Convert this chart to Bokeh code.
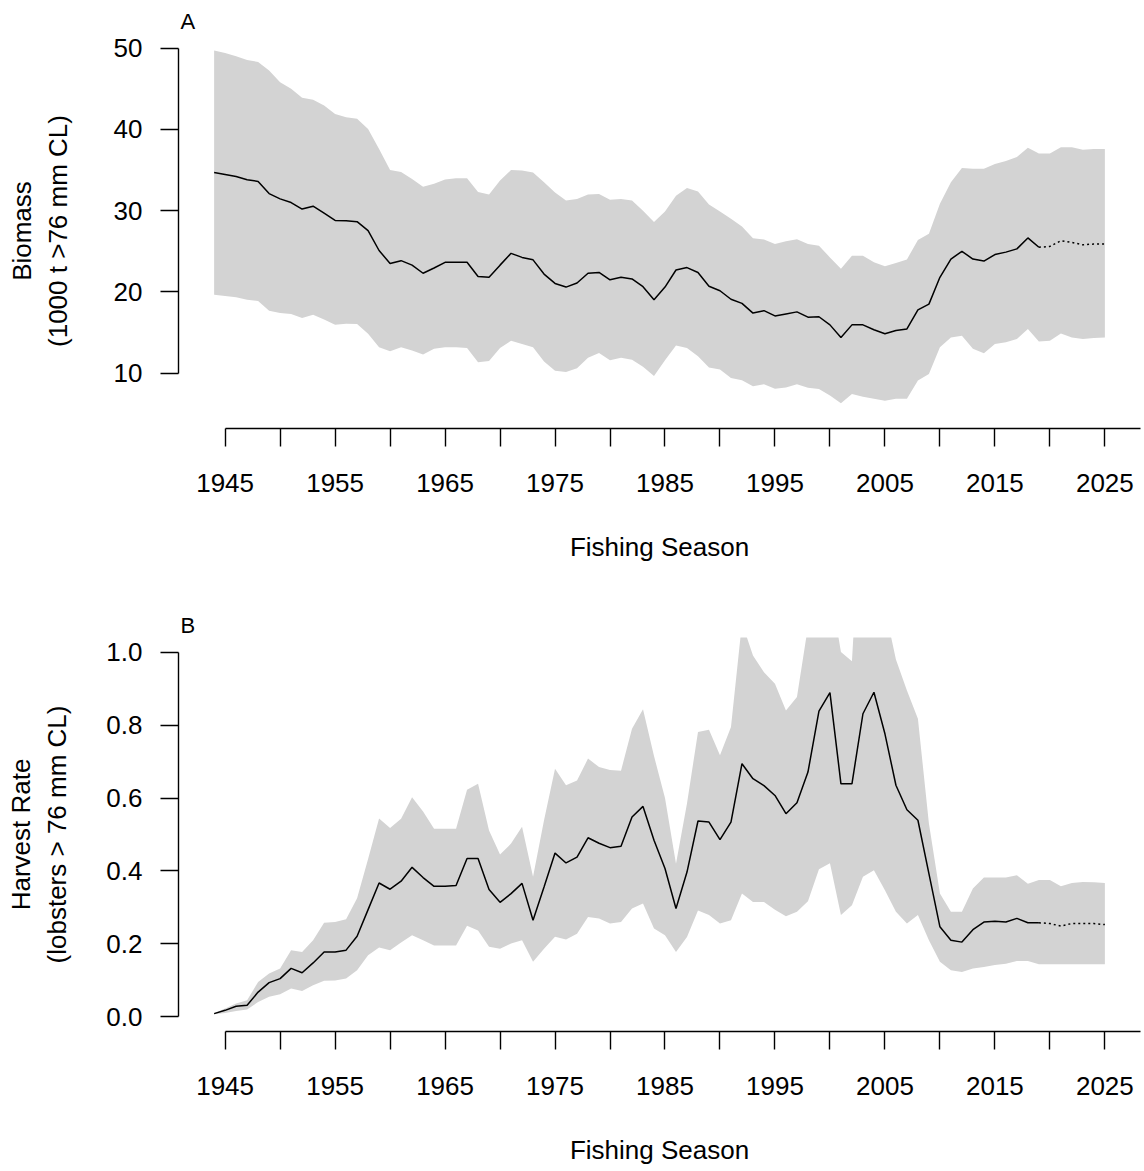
from bokeh.plotting import figure
from bokeh.layouts import column
from bokeh.models import Range1d, FixedTicker, PrintfTickFormatter
from bokeh.embed import file_html
from bokeh.resources import INLINE

years = list(range(1944, 2026))
last_observed = 2019

biomass_median = [34.7, 34.45, 34.2, 33.8, 33.6, 32.1, 31.45, 31.0, 30.2, 30.55,
                  29.7, 28.8, 28.75, 28.65, 27.55, 25.1, 23.5, 23.85, 23.3, 22.3,
                  22.95, 23.65, 23.65, 23.65, 21.9, 21.8, 23.3, 24.75, 24.25, 23.95,
                  22.2, 21.05, 20.6, 21.1, 22.3, 22.4, 21.5, 21.8, 21.6, 20.65,
                  19.05, 20.6, 22.7, 23.0, 22.4, 20.7, 20.15, 19.1, 18.6, 17.4,
                  17.7, 17.05, 17.3, 17.55, 16.9, 16.95, 15.95, 14.4, 15.95, 15.95,
                  15.35, 14.85, 15.25, 15.45, 17.8, 18.5, 21.8, 24.05, 25.0, 24.05,
                  23.8, 24.6, 24.9, 25.3, 26.65, 25.5, 25.6, 26.3, 26.1, 25.8,
                  25.9, 25.9]
biomass_upper = [49.7, 49.4, 49.0, 48.55, 48.3, 47.25, 45.8, 45.0, 43.9, 43.65,
                 42.95, 41.9, 41.5, 41.3, 40.05, 37.6, 35.0, 34.75, 33.9, 32.95,
                 33.3, 33.85, 34.0, 34.0, 32.3, 32.0, 33.7, 35.0, 34.95, 34.7,
                 33.5, 32.25, 31.25, 31.45, 32.0, 32.05, 31.35, 31.45, 31.25, 30.0,
                 28.6, 29.9, 31.85, 32.8, 32.35, 30.75, 29.9, 29.0, 28.05, 26.6,
                 26.45, 25.9, 26.25, 26.5, 25.9, 25.7, 24.25, 22.85, 24.45, 24.45,
                 23.65, 23.15, 23.55, 24.0, 26.4, 27.15, 30.85, 33.5, 35.25, 35.15,
                 35.15, 35.75, 36.1, 36.6, 37.75, 37.05, 37.05, 37.8, 37.8, 37.5,
                 37.6, 37.6]
biomass_lower = [19.65, 19.5, 19.35, 19.05, 18.9, 17.7, 17.4, 17.3, 16.8, 17.2,
                 16.6, 15.95, 16.1, 16.05, 14.85, 13.2, 12.7, 13.2, 12.8, 12.3,
                 13.0, 13.2, 13.2, 13.1, 11.35, 11.5, 13.1, 14.0, 13.6, 13.2,
                 11.45, 10.3, 10.15, 10.6, 11.9, 12.5, 11.6, 11.9, 11.65, 10.8,
                 9.65, 11.6, 13.4, 13.1, 12.1, 10.7, 10.45, 9.4, 9.15, 8.4,
                 8.65, 8.1, 8.25, 8.65, 8.2, 8.05, 7.25, 6.3, 7.45, 7.1,
                 6.85, 6.6, 6.85, 6.85, 9.1, 9.9, 13.2, 14.4, 14.6, 13.0,
                 12.45, 13.6, 13.8, 14.2, 15.45, 13.9, 14.0, 14.9, 14.4, 14.2,
                 14.35, 14.4]

harvest_median = [0.009, 0.018, 0.029, 0.032, 0.068, 0.094, 0.105, 0.133, 0.121, 0.148,
                  0.178, 0.178, 0.183, 0.221, 0.294, 0.367, 0.35, 0.372, 0.41, 0.382,
                  0.358, 0.358, 0.36, 0.434, 0.434, 0.349, 0.314, 0.338, 0.366, 0.265,
                  0.356, 0.449, 0.422, 0.438, 0.491, 0.476, 0.464, 0.468, 0.548, 0.577,
                  0.484, 0.407, 0.297, 0.397, 0.537, 0.534, 0.486, 0.534, 0.694, 0.653,
                  0.634, 0.607, 0.557, 0.587, 0.671, 0.838, 0.889, 0.639, 0.639, 0.831,
                  0.89, 0.776, 0.635, 0.568, 0.539, 0.393, 0.247, 0.21, 0.205, 0.239,
                  0.26, 0.262, 0.26, 0.27, 0.258, 0.258, 0.256, 0.249, 0.256, 0.256,
                  0.256, 0.253]
harvest_upper = [0.01, 0.023, 0.037, 0.046, 0.096, 0.119, 0.133, 0.183, 0.178, 0.21,
                 0.258, 0.26, 0.268, 0.325, 0.433, 0.544, 0.518, 0.543, 0.602, 0.563,
                 0.516, 0.516, 0.516, 0.623, 0.639, 0.511, 0.445, 0.475, 0.521, 0.384,
                 0.539, 0.68, 0.635, 0.648, 0.708, 0.685, 0.677, 0.675, 0.79, 0.843,
                 0.715, 0.6, 0.42, 0.585, 0.781, 0.787, 0.717, 0.795, 1.08, 0.991,
                 0.945, 0.913, 0.84, 0.877, 1.07, 1.25, 1.18, 1.0, 0.975, 1.5,
                 1.35, 1.12, 0.98, 0.895, 0.817, 0.53, 0.338, 0.288, 0.288, 0.352,
                 0.382, 0.382, 0.382, 0.388, 0.365, 0.375, 0.375, 0.358, 0.367, 0.37,
                 0.369, 0.367]
harvest_lower = [0.007, 0.011, 0.016, 0.02, 0.041, 0.055, 0.062, 0.078, 0.071, 0.087,
                 0.099, 0.1, 0.105, 0.128, 0.169, 0.19, 0.183, 0.204, 0.224, 0.21,
                 0.196, 0.196, 0.196, 0.25, 0.237, 0.192, 0.187, 0.201, 0.21, 0.151,
                 0.187, 0.22, 0.212, 0.228, 0.274, 0.27, 0.256, 0.26, 0.297, 0.311,
                 0.242, 0.224, 0.178, 0.219, 0.292, 0.279, 0.256, 0.265, 0.338, 0.315,
                 0.315, 0.294, 0.276, 0.288, 0.317, 0.405, 0.421, 0.279, 0.306, 0.384,
                 0.402, 0.347, 0.288, 0.256, 0.279, 0.21, 0.151, 0.128, 0.123, 0.133,
                 0.137, 0.142, 0.146, 0.153, 0.153, 0.144, 0.144, 0.144, 0.144, 0.144,
                 0.144, 0.144]

x_major = [1945, 1955, 1965, 1975, 1985, 1995, 2005, 2015, 2025]
x_minor = [1950, 1960, 1970, 1980, 1990, 2000, 2010, 2020]
a_ticks = [10, 20, 30, 40, 50]
b_ticks = [0.0, 0.2, 0.4, 0.6, 0.8, 1.0]

FONT = "Liberation Sans"
BAND = "#D3D3D3"
X0, X1 = 1940.76, 2028.24


def make_panel(height, top, bottom, y0, y1, median, lower, upper, yticks,
               ylabel, ylab_standoff, panel_letter, fmt=None):
    p = figure(width=1144, height=height, x_range=Range1d(X0, X1),
               y_range=Range1d(y0, y1), output_backend="svg",
               toolbar_location=None, title=panel_letter,
               min_border_left=178, min_border_right=4,
               min_border_top=top, min_border_bottom=bottom)
    p.outline_line_color = None
    p.xgrid.visible = False
    p.ygrid.visible = False
    p.background_fill_color = "white"
    p.border_fill_color = "white"

    p.title.align = "left"
    p.title.offset = 2
    p.title.standoff = 0
    p.title.text_font = FONT
    p.title.text_font_size = "22px"
    p.title.text_font_style = "normal"
    p.title.text_color = "black"

    p.varea(x=years, y1=lower, y2=upper, fill_color=BAND, fill_alpha=1.0)
    k = years.index(last_observed)
    p.line(years[:k + 1], median[:k + 1], line_color="black", line_width=1.5)
    p.line(years[k:], median[k:], line_color="black", line_width=1.5,
           line_dash="2 3")

    for ax in (p.xaxis[0], p.yaxis[0]):
        ax.axis_line_color = "black"
        ax.axis_line_width = 1.4
        ax.major_tick_line_color = "black"
        ax.major_tick_line_width = 1.4
        ax.major_tick_in = 0
        ax.major_tick_out = 18
        ax.major_label_text_font = FONT
        ax.major_label_text_font_size = "26px"
        ax.major_label_text_color = "black"
        ax.axis_label_text_font = FONT
        ax.axis_label_text_font_size = "26px"
        ax.axis_label_text_font_style = "normal"
        ax.axis_label_text_color = "black"
        ax.major_label_standoff = 18

    xa = p.xaxis[0]
    xa.ticker = FixedTicker(ticks=x_major, minor_ticks=x_minor)
    xa.minor_tick_line_color = "black"
    xa.minor_tick_line_width = 1.4
    xa.minor_tick_in = 0
    xa.minor_tick_out = 18
    xa.bounds = (1945, X1)
    xa.axis_label = "Fishing Season"
    xa.major_label_standoff = 27
    xa.axis_label_standoff = 37

    ya = p.yaxis[0]
    ya.ticker = FixedTicker(ticks=yticks)
    ya.minor_tick_line_color = None
    ya.bounds = (yticks[0], yticks[-1])
    ya.axis_label = ylabel
    ya.axis_label_standoff = ylab_standoff
    ya.major_label_orientation = "horizontal"
    if fmt is not None:
        ya.formatter = PrintfTickFormatter(format=fmt)
    return p


pA = make_panel(588, 33, 160, 3.2, 51.8, biomass_median, biomass_lower,
                biomass_upper, a_ticks, "Biomass\n(1000 t >76 mm CL)", 38, "A")
pB = make_panel(583, 49, 140, -0.04, 1.04, harvest_median, harvest_lower,
                harvest_upper, b_ticks, "Harvest Rate\n(lobsters > 76 mm CL)", 31,
                "B", fmt="%.1f")

layout = column(pA, pB)
open("out.html", "w").write(file_html(layout, INLINE))
